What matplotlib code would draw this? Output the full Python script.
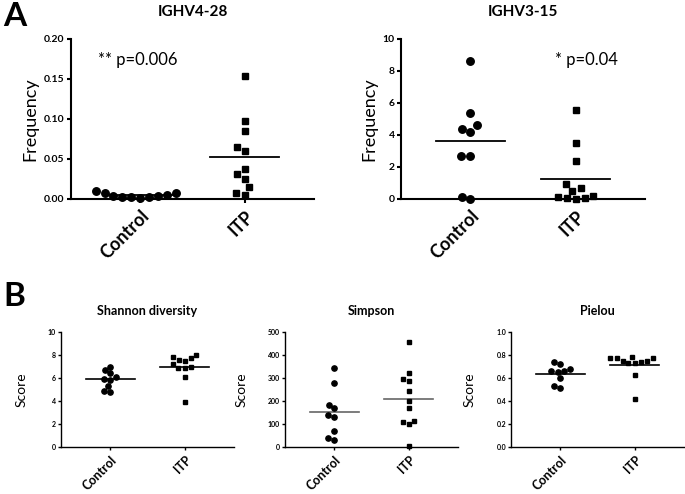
import numpy as np
import matplotlib
matplotlib.use("Agg")
import matplotlib.pyplot as plt

plt.rcParams['font.family'] = ['Lato', 'DejaVu Sans']

groups = ['Control', 'ITP']

# panel A: gene frequencies
ighv428_control = [0.010, 0.008, 0.004, 0.003, 0.003, 0.003, 0.004, 0.005, 0.008, 0.001]
ighv428_itp = [0.154, 0.098, 0.085, 0.065, 0.060, 0.0375, 0.031, 0.025, 0.015, 0.0075, 0.005]
ighv315_control = [8.6, 5.4, 4.6, 4.2, 4.35, 2.7, 2.7, 0.0, 0.1]
ighv315_itp = [5.56, 3.52, 2.37, 0.94, 0.67, 0.52, 0.19, 0.04, 0.0, 0.04, 0.12]

# panel B: diversity scores
shannon_control = [7.0, 6.7, 6.45, 6.1, 5.85, 5.9, 5.3, 4.8, 4.85]
shannon_itp = [7.85, 7.57, 7.5, 7.7, 8.0, 7.2, 6.93, 6.84, 6.9, 6.06, 3.94]
simpson_control = [342, 277, 184, 168, 132, 139, 70, 30, 38]
simpson_itp = [458, 323, 288, 296, 243, 199, 171, 110, 99, 113, 4]
pielou_control = [0.74, 0.72, 0.68, 0.66, 0.65, 0.66, 0.60, 0.51, 0.53]
pielou_itp = [0.78, 0.77, 0.75, 0.74, 0.73, 0.73, 0.75, 0.77, 0.77, 0.63, 0.42]


def swarm(ax, x0, values, diam):
    # simple beeswarm in pixel space, returns x positions in data units
    tr = ax.transData
    ypx = [tr.transform((x0, v))[1] for v in values]
    xpx0 = tr.transform((x0, 0))[0]
    upx = tr.transform((x0 + 1, 0))[0] - xpx0
    order = np.argsort(ypx)
    placed = []
    out = np.zeros(len(values))
    for i in order:
        y = ypx[i]
        bad = []
        for (px, py) in placed:
            dy = abs(py - y)
            if dy < diam:
                w = np.sqrt(diam ** 2 - dy ** 2)
                bad.append((px - w, px + w))
        cands = [0.0] + [b for iv in bad for b in iv]
        cands = sorted(cands, key=lambda c: (abs(c), c))
        for c in cands:
            if all(not (lo + 1e-6 < c < hi - 1e-6) for lo, hi in bad):
                break
        placed.append((c, y))
        out[i] = x0 + c / upx
    return out


def dot_panel(rect, ctrl, itp, ylim, yticks, fmt, title, ylabel, big, line_color='black'):
    ax = fig.add_axes(rect)
    ax.set_xlim(-0.66, 1.66)
    ax.set_ylim(*ylim)
    for s in ['top', 'right']:
        ax.spines[s].set_visible(False)
    lw = 1.5 if big else 1.0
    ax.spines['left'].set_linewidth(lw)
    ax.spines['bottom'].set_linewidth(lw)
    ms = 5.4 if big else 3.8
    diam = ms * 100 / 72 * 1.2
    for k, (vals, mk) in enumerate([(ctrl, 'o'), (itp, 's')]):
        xs = swarm(ax, k, vals, diam)
        ax.plot(xs, vals, ls='none', marker=mk, ms=ms if mk == 'o' else ms * 0.9,
                color='black', clip_on=False, zorder=3)
        m = np.mean(vals)
        ax.plot([k - 0.33, k + 0.33], [m, m], color=line_color, lw=1.3 if big else 1.2, zorder=2)
    ax.set_yticks(yticks)
    ax.set_yticklabels([fmt.format(t) for t in yticks], fontweight='bold',
                       fontsize=7.5 if big else 5)
    ax.set_xticks([0, 1])
    ax.set_xticklabels(groups, rotation=45, ha='right', rotation_mode='anchor',
                       fontweight='bold', fontsize=13 if big else 9)
    ax.tick_params(axis='y', length=3 if big else 2, width=lw, pad=1.5)
    ax.tick_params(axis='x', length=3 if big else 2, width=lw, pad=3)
    # panel title placed above the axes
    ax.text(0.5, 1.17 if big else 1.18, title, transform=ax.transAxes, ha='center',
            va='center', fontweight='bold', fontsize=11 if big else 9)
    ax.set_ylabel(ylabel, fontsize=13 if big else 10, labelpad=4 if big else 15)
    return ax


fig = plt.figure(figsize=(6.85, 4.94), dpi=100)
W, H = 685, 494


def rect(x0, x1, ytop, ybot):
    return [x0 / W, (H - ybot) / H, (x1 - x0) / W, (ybot - ytop) / H]


ax1 = dot_panel(rect(71, 314, 39, 199), ighv428_control, ighv428_itp, (0, 0.20),
                [0, 0.05, 0.10, 0.15, 0.20], '{:.2f}', 'IGHV4-28', 'Frequency', True)
ax1.text(-0.4, 0.174, '** p=0.006', fontsize=12, va='center', ha='left')

ax2 = dot_panel(rect(401, 645, 39, 199), ighv315_control, ighv315_itp, (0, 10),
                [0, 2, 4, 6, 8, 10], '{:g}', 'IGHV3-15', 'Frequency', True)
ax2.text(0.80, 8.7, '* p=0.04', fontsize=12, va='center', ha='left')

dot_panel(rect(61, 234, 332, 447), shannon_control, shannon_itp, (0, 10),
          [0, 2, 4, 6, 8, 10], '{:g}', 'Shannon diversity', 'Score', False)
dot_panel(rect(285, 458, 332, 447), simpson_control, simpson_itp, (0, 500),
          [0, 100, 200, 300, 400, 500], '{:g}', 'Simpson', 'Score', False, line_color='#666666')
dot_panel(rect(511, 684, 332, 447), pielou_control, pielou_itp, (0, 1.0),
          [0, 0.2, 0.4, 0.6, 0.8, 1.0], '{:.1f}', 'Pielou', 'Score', False)

fig.text(3 / W, 1 - 16 / H, 'A', fontsize=24, fontweight='bold', va='center', ha='left')
fig.text(3 / W, 1 - 296 / H, 'B', fontsize=24, fontweight='bold', va='center', ha='left')

fig.savefig('out.png', dpi=100)
